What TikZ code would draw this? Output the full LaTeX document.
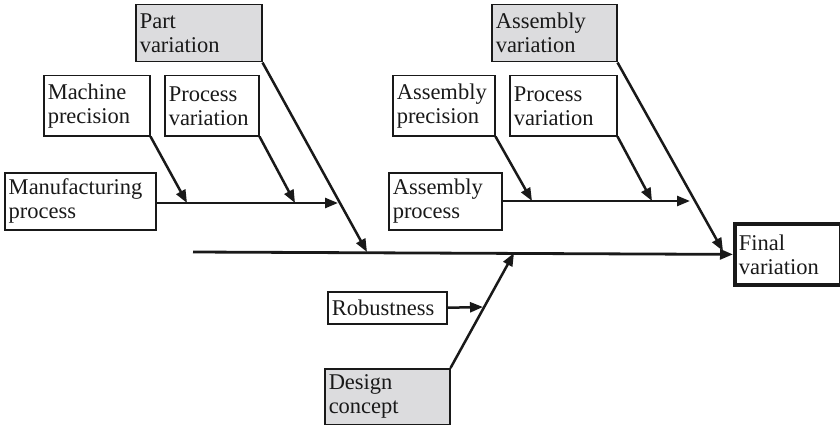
\documentclass[tikz,border=0pt]{standalone}
\usepackage{fontspec}
\setmainfont{Liberation Serif}
\usetikzlibrary{arrows.meta}
\definecolor{boxgray}{RGB}{220,220,222}
\definecolor{ink}{RGB}{25,25,25}
\newcommand{\boxfont}{\fontsize{22.5}{24}\selectfont}
\begin{document}
\begin{tikzpicture}[x=1pt,y=-1pt,
  cause/.style={draw=ink, text=ink, line width=1.5pt, rectangle, anchor=north west,
    inner xsep=4pt, inner ysep=0pt, align=left, font=\boxfont},
  main cause/.style={cause, fill=boxgray},
  bone/.style={draw=ink, line width=2.5pt, -{Triangle[length=13pt,width=10pt]}},
  spine/.style={draw=ink, line width=2.8pt, -{Triangle[length=13pt,width=10pt]}}]
\useasboundingbox (0,0) rectangle (840,425);

% cause boxes
\node[main cause, text width=118pt, minimum height=57pt] (pv) at (135,4) {Part\\variation};
\node[cause, text width=98pt, minimum height=60pt] (mp) at (43,75) {Machine\\precision};
\node[cause, text width=86pt, minimum height=60pt] (prl) at (164,75) {Process\\variation};
\node[cause, text width=143pt, minimum height=57pt] (mfg) at (4,172) {Manufacturing\\process};

\node[main cause, text width=117pt, minimum height=57pt] (av) at (491,4) {Assembly\\variation};
\node[cause, text width=94pt, minimum height=60pt] (apr) at (392,75) {Assembly\\precision};
\node[cause, text width=99pt, minimum height=60pt] (prr) at (509,75) {Process\\variation};
\node[cause, text width=105pt, minimum height=57pt] (asp) at (388,172) {Assembly\\process};

\node[cause, text width=111pt, minimum height=32pt] (rb) at (327,291) {Robustness};
\node[main cause, text width=117pt, minimum height=56pt] (dc) at (324,368) {Design\\concept};

\node[cause, line width=3.8pt, text width=98pt, minimum height=61pt] (fv) at (733,222) {Final\\variation};

% junction points on the bones
\coordinate (spineL) at (193,252);
\coordinate (jPart) at (367,252);
\coordinate (jAsm) at (723,251);
\coordinate (jDes) at (514,253);
\coordinate (mfgS) at (155,203);
\coordinate (mfgE) at (338,203);
\coordinate (jMp) at (187,203);
\coordinate (jPrl) at (295,203);
\coordinate (aspS) at (501,201);
\coordinate (aspE) at (690,201);
\coordinate (jApr) at (532,201);
\coordinate (jPrr) at (652,201);
\coordinate (jRb) at (483,307);

% spine
\draw[spine] (spineL) -- (fv.west);

% part variation branch
\draw[bone] (pv.south east) -- (jPart);
\draw[bone] (mfgS) -- (mfgE);
\draw[bone] (mp.south east) -- (jMp);
\draw[bone] (prl.south east) -- (jPrl);

% assembly variation branch
\draw[bone] (av.south east) -- (jAsm);
\draw[bone] (aspS) -- (aspE);
\draw[bone] (apr.south east) -- (jApr);
\draw[bone] (prr.south east) -- (jPrr);

% design concept branch
\draw[bone] (dc.north east) -- (jDes);
\draw[bone] (rb.east) -- (jRb);
\end{tikzpicture}
\end{document}
